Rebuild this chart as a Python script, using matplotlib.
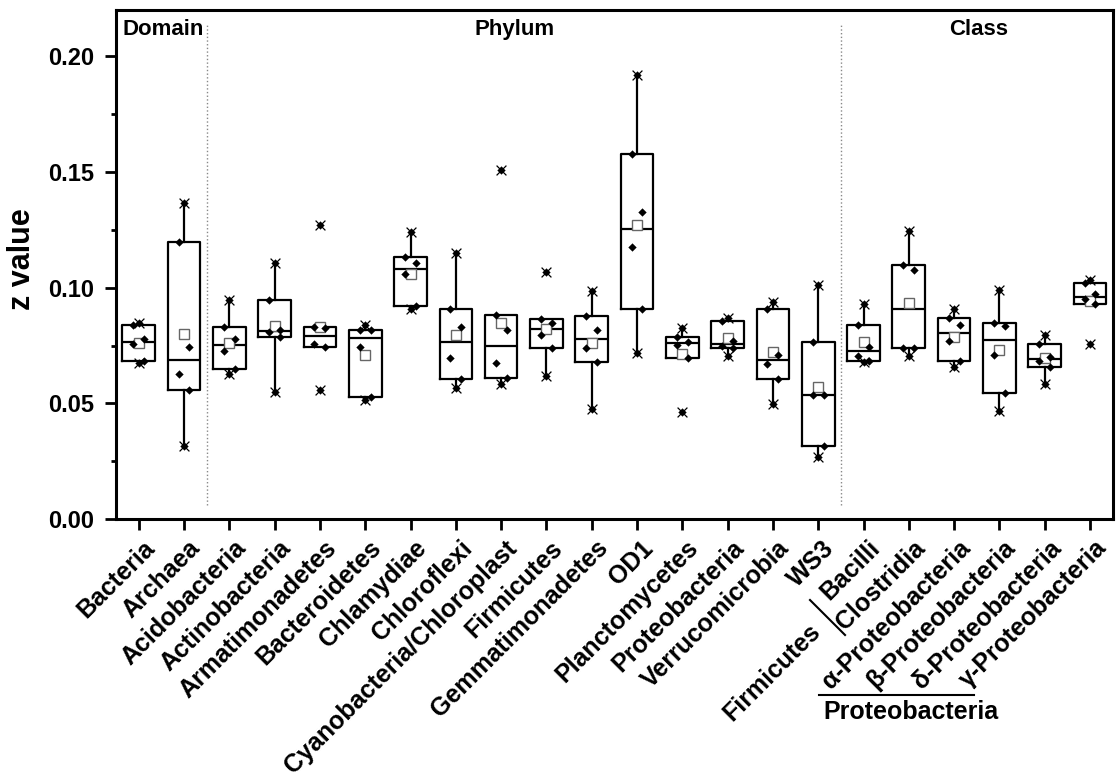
import numpy as np
import matplotlib
matplotlib.use('Agg')
import matplotlib.pyplot as plt
import matplotlib.transforms as mtransforms
from matplotlib.lines import Line2D

plt.rcParams['font.family'] = ['Liberation Sans', 'DejaVu Sans']
plt.rcParams['font.weight'] = 'bold'

categories = ['Bacteria', 'Archaea', 'Acidobacteria', 'Actinobacteria', 'Armatimonadetes',
              'Bacteroidetes', 'Chlamydiae', 'Chloroflexi', 'Cyanobacteria/Chloroplast',
              'Firmicutes', 'Gemmatimonadetes', 'OD1', 'Planctomycetes', 'Proteobacteria',
              'Verrucomicrobia', 'WS3', 'Bacilli', 'Clostridia', 'α-Proteobacteria',
              'β-Proteobacteria', 'δ-Proteobacteria', 'γ-Proteobacteria']

# z values (6 per taxon)
bacteria = [0.0846, 0.0838, 0.0778, 0.0757, 0.0685, 0.0676]
archaea = [0.1368, 0.1197, 0.0746, 0.0626, 0.0556, 0.0315]
acidobacteria = [0.0948, 0.0829, 0.0778, 0.0727, 0.0647, 0.0629]
actinobacteria = [0.1109, 0.0948, 0.0819, 0.0808, 0.0787, 0.0548]
armatimonadetes = [0.1270, 0.0830, 0.0827, 0.0757, 0.0746, 0.0556]
bacteroidetes = [0.0838, 0.0819, 0.0819, 0.0746, 0.0527, 0.0517]
chlamydiae = [0.1241, 0.1131, 0.1108, 0.1058, 0.0919, 0.0907]
chloroflexi = [0.1149, 0.0910, 0.0830, 0.0698, 0.0607, 0.0568]
cyanobacteria = [0.1510, 0.0882, 0.0819, 0.0676, 0.0608, 0.0586]
firmicutes = [0.1068, 0.0863, 0.0849, 0.0797, 0.0739, 0.0619]
gemmatimonadetes = [0.0988, 0.0878, 0.0816, 0.0739, 0.0677, 0.0476]
od1 = [0.1920, 0.1577, 0.1329, 0.1178, 0.0910, 0.0717]
planctomycetes = [0.0827, 0.0786, 0.0765, 0.0754, 0.0698, 0.0465]
proteobacteria = [0.0871, 0.0856, 0.0770, 0.0748, 0.0739, 0.0707]
verrucomicrobia = [0.0939, 0.0910, 0.0710, 0.0669, 0.0607, 0.0498]
ws3 = [0.1010, 0.0765, 0.0537, 0.0537, 0.0318, 0.0268]
bacilli = [0.0929, 0.0838, 0.0746, 0.0707, 0.0685, 0.0677]
clostridia = [0.1247, 0.1097, 0.1078, 0.0739, 0.0739, 0.0707]
alpha = [0.0910, 0.0868, 0.0838, 0.0768, 0.0685, 0.0658]
beta = [0.0990, 0.0846, 0.0836, 0.0710, 0.0546, 0.0468]
delta = [0.0797, 0.0757, 0.0701, 0.0683, 0.0658, 0.0586]
gamma = [0.1032, 0.1020, 0.0971, 0.0951, 0.0929, 0.0757]

groups = [bacteria, archaea, acidobacteria, actinobacteria, armatimonadetes, bacteroidetes,
          chlamydiae, chloroflexi, cyanobacteria, firmicutes, gemmatimonadetes, od1,
          planctomycetes, proteobacteria, verrucomicrobia, ws3, bacilli, clostridia,
          alpha, beta, delta, gamma]

sections = ['Domain', 'Phylum', 'Class']
section_x = [1.55, 9.3, 19.55]
separators = [2.5, 16.5]


def box_stats(vals):
    # Tukey hinges, whiskers at 1.5 IQR
    s = np.sort(vals)
    n = len(s)
    half = (n + 1) // 2
    q1 = np.median(s[:half])
    q3 = np.median(s[n - half:])
    iqr = q3 - q1
    lo = s[s >= q1 - 1.5 * iqr].min()
    hi = s[s <= q3 + 1.5 * iqr].max()
    return dict(med=np.median(s), q1=q1, q3=q3, whislo=lo, whishi=hi,
                mean=np.mean(s), fliers=[])


fig, ax = plt.subplots(figsize=(11.16, 7.76), dpi=100)
fig.subplots_adjust(left=0.104, right=0.997, bottom=0.331, top=0.987)

pos = np.arange(1, len(categories) + 1)
stats = [box_stats(g) for g in groups]
ax.bxp(stats, positions=pos, widths=0.72, showmeans=True, showcaps=False,
       showfliers=False,
       boxprops=dict(color='black', lw=1.6),
       whiskerprops=dict(color='black', lw=1.6),
       medianprops=dict(color='black', lw=1.6),
       meanprops=dict(marker='s', markersize=6.5, markerfacecolor='white',
                      markeredgecolor='#666666', markeredgewidth=1.0),
       zorder=2)

jitter = [0.0, -0.12, 0.12, -0.12, 0.12, 0.0]
for p, g in zip(pos, groups):
    s = np.sort(g)[::-1]
    xs = p + np.array(jitter[:len(s)])
    ax.scatter(xs, s, marker='D', s=18, color='black', zorder=4, linewidths=0)
    ax.scatter([p, p], [s.min(), s.max()], marker='x', s=50, color='black',
               linewidths=0.9, zorder=5)

for xs in separators:
    ax.plot([xs, xs], [0.006, 0.214], ls=':', color='#888888', lw=1.0, zorder=1)

for name, xs in zip(sections, section_x):
    ax.text(xs, 0.2115, name, ha='center', va='center', fontsize=16, fontweight='bold')

ax.set_xlim(0.5, 22.5)
ax.set_ylim(0, 0.22)
ax.set_yticks([0, 0.05, 0.10, 0.15, 0.20])
ax.set_yticklabels(['0.00', '0.05', '0.10', '0.15', '0.20'], fontsize=17, fontweight='bold')
ax.set_yticks([0.025, 0.075, 0.125, 0.175], minor=True)
ax.set_xticks(pos)
ax.set_xticklabels(categories, rotation=45, ha='right', rotation_mode='anchor',
                   fontsize=18, fontweight='bold')
ax.tick_params(axis='both', which='major', direction='out', length=8, width=2)
ax.tick_params(axis='y', which='major', pad=8)
ax.tick_params(axis='y', which='minor', direction='out', length=3.5, width=2)
ax.tick_params(axis='x', pad=4)
shift = mtransforms.ScaledTranslation(0.04, 0.0, fig.dpi_scale_trans)
for lab in ax.get_xticklabels():
    lab.set_transform(lab.get_transform() + shift)
for sp in ax.spines.values():
    sp.set_linewidth(2.2)

ax.set_ylabel('z value', fontsize=22, fontweight='bold')
ax.yaxis.set_label_coords(-0.079, 0.51)

# Firmicutes | Bacilli, Clostridia  and  Proteobacteria bracket
fig.add_artist(Line2D([0.7258, 0.7572], [0.2268, 0.1817], color='black', lw=1.5,
                      transform=fig.transFigure))
fig.add_artist(Line2D([0.7339, 0.8728], [0.1044, 0.1044], color='black', lw=1.5,
                      transform=fig.transFigure))
fig.text(0.6918, 0.134, 'Firmicutes', rotation=45, ha='center', va='center',
         rotation_mode='anchor', fontsize=18, fontweight='bold')
fig.text(0.8163, 0.0825, 'Proteobacteria', ha='center', va='center',
         fontsize=18, fontweight='bold')

fig.savefig('out.png', dpi=100)
